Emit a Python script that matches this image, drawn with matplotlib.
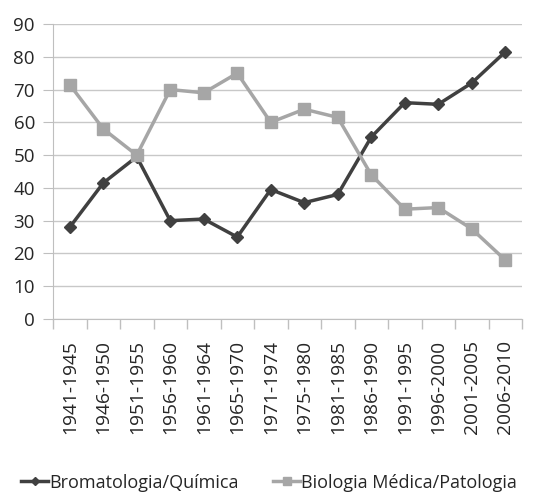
import matplotlib
matplotlib.use("Agg")
import matplotlib.pyplot as plt
from matplotlib.ticker import FixedLocator

periods = ["1941-1945", "1946-1950", "1951-1955", "1956-1960", "1961-1964",
           "1965-1970", "1971-1974", "1975-1980", "1981-1985", "1986-1990",
           "1991-1995", "1996-2000", "2001-2005", "2006-2010"]
bromatologia = [28, 41.5, 49.5, 30, 30.5, 25, 39.5, 35.5, 38, 55.5, 66, 65.5, 72, 81.5]
biologia = [71.5, 58, 50, 70, 69, 75, 60, 64, 61.5, 44, 33.5, 34, 27.5, 18]

plt.rcParams["font.family"] = ["Open Sans", "DejaVu Sans"]

fig = plt.figure(figsize=(5.49, 4.94), dpi=100)
ax = fig.add_axes([53 / 549, 1 - 319 / 494, (522 - 53) / 549, (319 - 24) / 494])

x = list(range(len(periods)))
ax.plot(x, bromatologia, color="#404040", lw=2.5, marker="D", ms=6,
        label="Bromatologia/Química", zorder=3)
ax.plot(x, biologia, color="#a6a6a6", lw=2.5, marker="s", ms=8,
        label="Biologia Médica/Patologia", zorder=3)

ax.set_xlim(-0.5, len(periods) - 0.5)
ax.set_ylim(0, 90)
ax.set_yticks(range(0, 91, 10))
ax.set_xticks(x)
ax.set_xticklabels(periods, rotation=90)
ax.xaxis.set_minor_locator(FixedLocator([i - 0.5 for i in range(len(periods) + 1)]))
ax.tick_params(axis="x", which="major", length=0, pad=15, labelsize=13.8)
ax.tick_params(axis="x", which="minor", length=7, color="#bfbfbf", width=1)
ax.tick_params(axis="y", length=7, color="#bfbfbf", labelsize=13.5, pad=6)
for lab in ax.get_xticklabels() + ax.get_yticklabels():
    lab.set_color("#262626")

ax.grid(axis="y", color="#c8c8c8", lw=1)
ax.set_axisbelow(True)
for side in ["top", "right"]:
    ax.spines[side].set_visible(False)
ax.spines["left"].set_color("#bfbfbf")
ax.spines["bottom"].set_color("#bfbfbf")

leg = fig.legend(loc="lower center", bbox_to_anchor=(0.49, -0.028), ncol=2, frameon=False,
                 fontsize=13, handlelength=1.5, handletextpad=0.05, columnspacing=1.9,
                 markerscale=0.7)
for t in leg.get_texts():
    t.set_color("#262626")

fig.savefig("out.png", dpi=100)
